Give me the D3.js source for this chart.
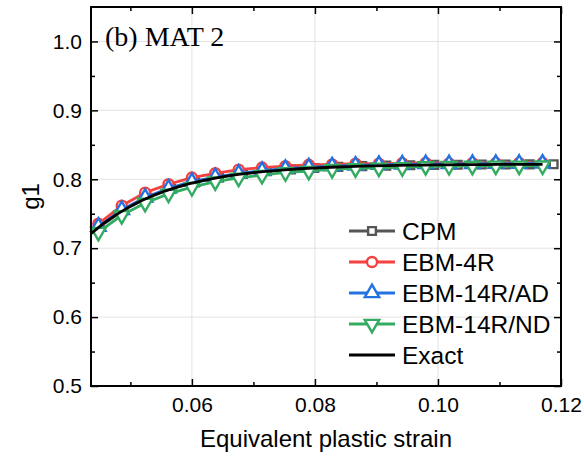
<!DOCTYPE html>
<html>
<head>
<meta charset="utf-8">
<script src="https://cdn.jsdelivr.net/npm/d3@7"></script>
<style>
  body { margin: 0; background: #fff; }
  svg { display: block; }
</style>
</head>
<body>
<div id="chart"></div>
<script>
(function () {
  // data
  const xMarks = [0.0448, 0.0486, 0.0524, 0.0562, 0.0600, 0.0638, 0.0676, 0.0714, 0.0752, 0.0790,
    0.0828, 0.0866, 0.0904, 0.0942, 0.0980, 0.1018, 0.1056, 0.1094, 0.1132, 0.1170];
  const xCpm = [0.0450, 0.0489, 0.0528, 0.0566, 0.0605, 0.0644, 0.0683, 0.0722, 0.0761, 0.0799,
    0.0838, 0.0877, 0.0916, 0.0955, 0.0994, 0.1032, 0.1071, 0.1110, 0.1149, 0.1188];
  const cpm = [0.7308, 0.7553, 0.7731, 0.7860, 0.7956, 0.8027, 0.8079, 0.8116, 0.8144, 0.8164,
    0.8179, 0.8190, 0.8198, 0.8204, 0.8208, 0.8211, 0.8214, 0.8215, 0.8217, 0.8218];
  const ebm4r = [0.7354, 0.7617, 0.7806, 0.7928, 0.8025, 0.8087, 0.8140, 0.8170, 0.8189, 0.8210,
    0.8216, 0.8227, 0.8226, 0.8232, 0.8237, 0.8230, 0.8233, 0.8235, 0.8236, 0.8237];
  const ebm14ad = [0.7314, 0.7557, 0.7736, 0.7868, 0.7965, 0.8032, 0.8085, 0.8125, 0.8154, 0.8175,
    0.8191, 0.8202, 0.8211, 0.8217, 0.8222, 0.8222, 0.8225, 0.8227, 0.8228, 0.8229];
  const ebm14nd = [0.7234, 0.7477, 0.7656, 0.7788, 0.7885, 0.7967, 0.8020, 0.8060, 0.8099, 0.8120,
    0.8146, 0.8157, 0.8166, 0.8172, 0.8187, 0.8190, 0.8193, 0.8195, 0.8196, 0.8197];
  const xExact = [0.0436, 0.0456, 0.0476, 0.0496, 0.0516, 0.0536, 0.0556, 0.0576, 0.0596, 0.0616,
    0.0636, 0.0656, 0.0676, 0.0696, 0.0716, 0.0736, 0.0756, 0.0776, 0.0796, 0.0816,
    0.0836, 0.0856, 0.0876, 0.0896, 0.0916, 0.0936, 0.0956, 0.0976, 0.0996, 0.1016,
    0.1036, 0.1056, 0.1076, 0.1096, 0.1116, 0.1136, 0.1156, 0.1170];
  const exact = [0.7210, 0.7355, 0.7479, 0.7589, 0.7682, 0.7762, 0.7829, 0.7887, 0.7936, 0.7978,
    0.8014, 0.8045, 0.8070, 0.8093, 0.8111, 0.8127, 0.8141, 0.8153, 0.8163, 0.8171,
    0.8178, 0.8185, 0.8190, 0.8194, 0.8198, 0.8201, 0.8204, 0.8206, 0.8208, 0.8210,
    0.8212, 0.8213, 0.8214, 0.8215, 0.8216, 0.8216, 0.8217, 0.8217];

  const xTicks = [0.06, 0.08, 0.10, 0.12];
  const xMinor = [0.05, 0.07, 0.09, 0.11];
  const yTicks = [0.5, 0.6, 0.7, 0.8, 0.9, 1.0];
  const yMinor = [0.55, 0.65, 0.75, 0.85, 0.95];

  const WIDTH = 584, HEIGHT = 459;
  const MARGIN = { TOP: 7, BOTTOM: 73, LEFT: 91, RIGHT: 23 };
  const SANS = 'Arial, "Liberation Sans", sans-serif';

  const svg = d3.select('#chart').append('svg')
    .attr('width', WIDTH)
    .attr('height', HEIGHT);

  const x = d3.scaleLinear().domain([0.0436, 0.12]).range([MARGIN.LEFT, WIDTH - MARGIN.RIGHT]);
  const y = d3.scaleLinear().domain([0.5, 1.05]).range([HEIGHT - MARGIN.BOTTOM, MARGIN.TOP]);

  const x0 = x.range()[0], x1 = x.range()[1];
  const y0 = y.range()[0], y1 = y.range()[1];

  // grid
  const grid = svg.append('g');
  grid.selectAll('.gx').data(xTicks.slice(0, 3)).enter().append('line')
    .attr('x1', d => x(d)).attr('x2', d => x(d))
    .attr('y1', y0).attr('y2', y1)
    .style('stroke', '#e2e2e2').style('stroke-width', 1);
  grid.selectAll('.gy').data(yTicks.slice(1)).enter().append('line')
    .attr('x1', x0).attr('x2', x1)
    .attr('y1', d => y(d)).attr('y2', d => y(d))
    .style('stroke', '#e2e2e2').style('stroke-width', 1);

  // series
  const series = [
    { name: 'CPM', xs: xCpm, ys: cpm, color: '#555555', symbol: d3.symbolSquare, size: 60, rot: 0 },
    { name: 'EBM-4R', xs: xMarks, ys: ebm4r, color: '#f5413f', symbol: d3.symbolCircle, size: 80, rot: 0 },
    { name: 'EBM-14R/AD', xs: xMarks, ys: ebm14ad, color: '#2471e0', symbol: d3.symbolTriangle, size: 90, rot: 0 },
    { name: 'EBM-14R/ND', xs: xMarks, ys: ebm14nd, color: '#33ac62', symbol: d3.symbolTriangle, size: 90, rot: 180 }
  ];

  const line = d3.line().x(d => x(d[0])).y(d => y(d[1]));

  series.forEach(s => {
    const pts = s.xs.map((v, i) => [v, s.ys[i]]);
    svg.append('path')
      .attr('d', line(pts))
      .style('fill', 'none')
      .style('stroke', s.color)
      .style('stroke-width', 2.8);
    svg.append('g').selectAll('path').data(pts).enter().append('path')
      .attr('d', d3.symbol().type(s.symbol).size(s.size))
      .attr('transform', d => `translate(${x(d[0])},${y(d[1])}) rotate(${s.rot})`)
      .style('fill', '#fff')
      .style('stroke', s.color)
      .style('stroke-width', 2.4);
  });

  svg.append('path')
    .attr('d', line(xExact.map((v, i) => [v, exact[i]])))
    .style('fill', 'none')
    .style('stroke', '#000')
    .style('stroke-width', 2.8);

  // axes (all ticks inward)
  const axisStyle = g => {
    g.select('.domain').remove();
    g.selectAll('line').style('stroke', '#000').style('stroke-width', 1.5);
  };
  const labelStyle = g => g.selectAll('text')
    .style('font-family', SANS).style('font-size', '21px').style('fill', '#000');

  svg.append('g').attr('transform', `translate(0,${y0})`)
    .call(d3.axisBottom(x).tickValues(xTicks).tickSizeInner(-7).tickSizeOuter(0).tickFormat(d3.format('.2f')).tickPadding(11))
    .call(axisStyle).call(labelStyle);
  svg.append('g').attr('transform', `translate(0,${y0})`)
    .call(d3.axisBottom(x).tickValues(xMinor).tickSizeInner(-4).tickSizeOuter(0).tickFormat(''))
    .call(axisStyle);
  svg.append('g').attr('transform', `translate(0,${y1})`)
    .call(d3.axisTop(x).tickValues(xTicks).tickSizeInner(-7).tickSizeOuter(0).tickFormat(''))
    .call(axisStyle);
  svg.append('g').attr('transform', `translate(0,${y1})`)
    .call(d3.axisTop(x).tickValues(xMinor).tickSizeInner(-4).tickSizeOuter(0).tickFormat(''))
    .call(axisStyle);

  svg.append('g').attr('transform', `translate(${x0},0)`)
    .call(d3.axisLeft(y).tickValues(yTicks).tickSizeInner(-7).tickSizeOuter(0).tickFormat(d3.format('.1f')).tickPadding(9))
    .call(axisStyle).call(labelStyle);
  svg.append('g').attr('transform', `translate(${x0},0)`)
    .call(d3.axisLeft(y).tickValues(yMinor).tickSizeInner(-4).tickSizeOuter(0).tickFormat(''))
    .call(axisStyle);
  svg.append('g').attr('transform', `translate(${x1},0)`)
    .call(d3.axisRight(y).tickValues(yTicks).tickSizeInner(-7).tickSizeOuter(0).tickFormat(''))
    .call(axisStyle);
  svg.append('g').attr('transform', `translate(${x1},0)`)
    .call(d3.axisRight(y).tickValues(yMinor).tickSizeInner(-4).tickSizeOuter(0).tickFormat(''))
    .call(axisStyle);

  // frame
  svg.append('rect')
    .attr('x', x0).attr('y', y1)
    .attr('width', x1 - x0).attr('height', y0 - y1)
    .style('fill', 'none').style('stroke', '#000').style('stroke-width', 2);

  // labels
  svg.append('text')
    .attr('x', (x0 + x1) / 2).attr('y', 447)
    .attr('text-anchor', 'middle')
    .style('font-family', SANS).style('font-size', '24px')
    .text('Equivalent plastic strain');
  svg.append('text')
    .attr('transform', `translate(39,${(y0 + y1) / 2}) rotate(-90)`)
    .attr('text-anchor', 'middle')
    .style('font-family', SANS).style('font-size', '24px')
    .text('g1');
  svg.append('text')
    .attr('x', 105).attr('y', 46)
    .style('font-family', '"Times New Roman", "Liberation Serif", serif').style('font-size', '28px')
    .text('(b) MAT 2');

  // legend
  const legendItems = series.concat([{ name: 'Exact', color: '#000', symbol: null }]);
  const leg = svg.append('g');
  legendItems.forEach((s, i) => {
    const ly = 231 + i * 31;
    leg.append('line')
      .attr('x1', 349).attr('x2', 395)
      .attr('y1', ly).attr('y2', ly)
      .style('stroke', s.color).style('stroke-width', 2.8);
    if (s.symbol) {
      leg.append('path')
        .attr('d', d3.symbol().type(s.symbol).size(s.size))
        .attr('transform', `translate(372,${ly}) rotate(${s.rot})`)
        .style('fill', '#fff').style('stroke', s.color).style('stroke-width', 2.4);
    }
    leg.append('text')
      .attr('x', 402).attr('y', ly)
      .attr('dy', '0.35em')
      .style('font-family', SANS).style('font-size', '24.5px')
      .text(s.name);
  });
})();
</script>
</body>
</html>
